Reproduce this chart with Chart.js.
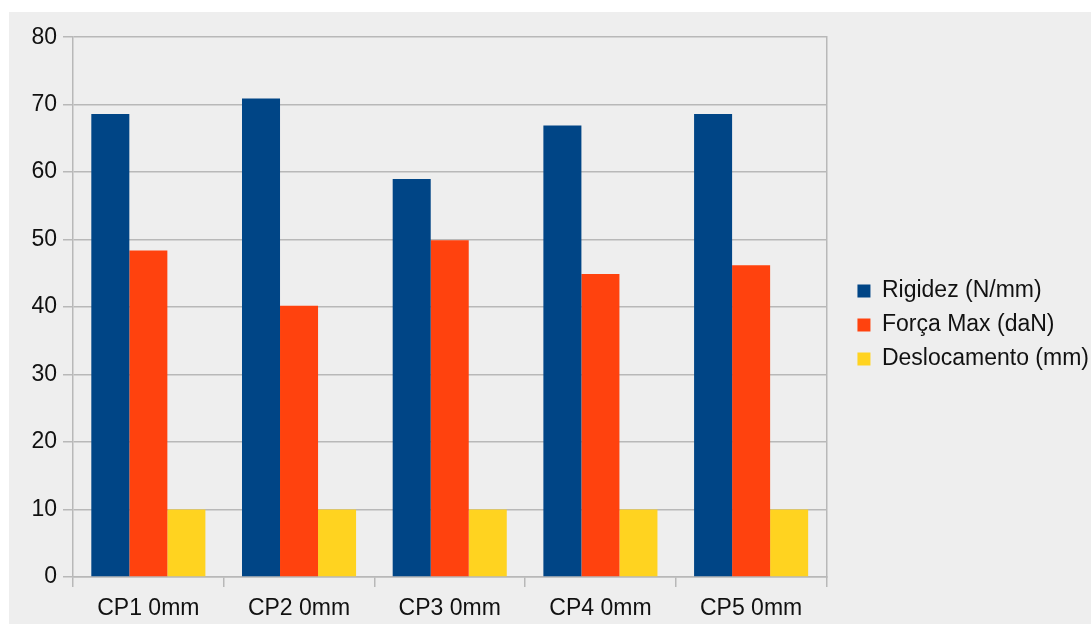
<!DOCTYPE html>
<html>
<head>
<meta charset="utf-8">
<script src="https://cdn.jsdelivr.net/npm/chart.js@4"></script>
<style>
  html, body { margin: 0; padding: 0; background: #fff; overflow: hidden; width: 1091px; height: 624px; }
  #panel { position: absolute; left: 9px; top: 12px; width: 1090px; height: 612px; background: #eeeeee; }
</style>
</head>
<body>
<div id="panel"><canvas id="chart"></canvas></div>
<script>
// Data
const categories = ['CP1 0mm', 'CP2 0mm', 'CP3 0mm', 'CP4 0mm', 'CP5 0mm'];
const rigidez = [68.6, 70.9, 59.0, 66.9, 68.6];
const forcaMax = [48.4, 40.2, 49.9, 44.9, 46.2];
const deslocamento = [10, 10, 10, 10, 10];
const seriesNames = ['Rigidez (N/mm)', 'Força Max (daN)', 'Deslocamento (mm)'];
const seriesColors = ['#004586', '#ff420e', '#ffd320'];

const gridColor = '#b8b8b8';
const textColor = '#111';
Chart.defaults.font.family = '"Liberation Sans", Arial, sans-serif';
Chart.defaults.font.size = 23;
Chart.defaults.color = textColor;

const datasets = [rigidez, forcaMax, deslocamento].map((values, i) => ({
  label: seriesNames[i],
  data: values,
  backgroundColor: seriesColors[i],
  borderWidth: 0,
  categoryPercentage: 0.757,
  barPercentage: 1.0,
  yAxisID: 'y'
}));

new Chart(document.getElementById('chart'), {
  type: 'bar',
  data: { labels: categories, datasets },
  options: {
    responsive: true,
    maintainAspectRatio: false,
    animation: false,
    layout: { padding: { left: 0, top: 16, right: 0, bottom: 2 } },
    plugins: {
      tooltip: { enabled: false },
      // empty title just keeps the top margin above the plot
      title: { display: true, text: '', font: { size: 7 }, padding: { top: 0, bottom: 0.8 } },
      legend: {
        position: 'right',
        align: 'center',
        maxWidth: 400,
        labels: {
          boxWidth: 13,
          boxHeight: 13,
          padding: 11,
          color: textColor,
          font: { size: 23 }
        }
      }
    },
    scales: {
      x: {
        grid: { drawOnChartArea: false, tickLength: 10, color: gridColor, lineWidth: 1.5 },
        border: { color: gridColor, width: 1.5 },
        ticks: { padding: 8, color: textColor, maxRotation: 0 },
        afterFit: s => { s.height = 45; }
      },
      y: {
        min: 0,
        max: 80,
        ticks: { stepSize: 10, padding: 6, color: textColor },
        grid: { tickLength: 10, color: gridColor, lineWidth: 1.5 },
        border: { color: gridColor, width: 1.5 },
        afterFit: s => { s.width = 64; }
      },
      // right frame line of the plot area
      yRight: {
        position: 'right',
        min: 0,
        max: 80,
        ticks: { display: false },
        grid: { drawOnChartArea: false, drawTicks: false },
        border: { display: true, color: gridColor, width: 1.5 },
        afterFit: s => { s.width = 20; }
      }
    }
  }
});
</script>
</body>
</html>
